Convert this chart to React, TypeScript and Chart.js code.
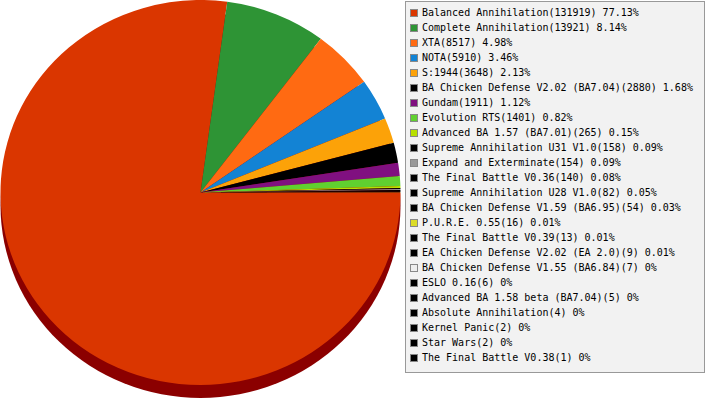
import React, { useEffect, useRef } from "react";
import { Chart, registerables } from "chart.js";

Chart.register(...registerables);

const categories: string[] = [
  "Balanced Annihilation",
  "Complete Annihilation",
  "XTA",
  "NOTA",
  "S:1944",
  "BA Chicken Defense V2.02 (BA7.04)",
  "Gundam",
  "Evolution RTS",
  "Advanced BA 1.57 (BA7.01)",
  "Supreme Annihilation U31 V1.0",
  "Expand and Exterminate",
  "The Final Battle V0.36",
  "Supreme Annihilation U28 V1.0",
  "BA Chicken Defense V1.59 (BA6.95)",
  "P.U.R.E. 0.55",
  "The Final Battle V0.39",
  "EA Chicken Defense V2.02 (EA 2.0)",
  "BA Chicken Defense V1.55 (BA6.84)",
  "ESLO 0.16",
  "Advanced BA 1.58 beta (BA7.04)",
  "Absolute Annihilation",
  "Kernel Panic",
  "Star Wars",
  "The Final Battle V0.38",
];

const values: number[] = [
  131919, 13921, 8517, 5910, 3648, 2880, 1911, 1401, 265, 158, 154, 140, 82, 54,
  16, 13, 9, 7, 6, 5, 4, 2, 2, 1,
];

const percentLabels: string[] = [
  "77.13%", "8.14%", "4.98%", "3.46%", "2.13%", "1.68%", "1.12%", "0.82%",
  "0.15%", "0.09%", "0.09%", "0.08%", "0.05%", "0.03%", "0.01%", "0.01%",
  "0.01%", "0%", "0%", "0%", "0%", "0%", "0%", "0%",
];

const colors: string[] = [
  "#da3600", "#2e9435", "#ff6a12", "#1383d4", "#fca208", "#000000",
  "#801080", "#60d030", "#b8e000", "#000000", "#999999", "#000000",
  "#000000", "#000000", "#dcdc28", "#000000", "#000000", "#eeeeee",
  "#000000", "#000000", "#000000", "#000000", "#000000", "#000000",
];

const SHADOW_COLOR = "#8b0000";
const DEPTH = 13;
const X_STRETCH = 200 / 192.5;

const pie3d = {
  id: "pie3d",
  beforeDatasetsDraw(chart: any) {
    const arc: any = chart.getDatasetMeta(0).data[0];
    if (!arc) return;
    const { x, y, outerRadius } = arc;
    const ctx = chart.ctx;
    ctx.save();
    ctx.translate(x, y);
    ctx.scale(X_STRETCH, 1);
    ctx.translate(-x, -y);
    ctx.fillStyle = SHADOW_COLOR;
    ctx.beginPath();
    ctx.arc(x, y + DEPTH, outerRadius, 0, Math.PI * 2);
    ctx.fill();
  },
  afterDatasetsDraw(chart: any) {
    chart.ctx.restore();
  },
};

function PieChart() {
  const ref = useRef<HTMLCanvasElement>(null);
  useEffect(() => {
    if (!ref.current) return;
    const chart = new Chart(ref.current, {
      type: "pie",
      data: {
        labels: categories,
        datasets: [
          {
            data: values,
            backgroundColor: colors,
            borderWidth: 0,
            clip: false as any,
          },
        ],
      },
      options: {
        responsive: false,
        animation: false,
        rotation: 90,
        layout: { padding: { top: 0, bottom: 15, left: 8, right: 11 } },
        plugins: {
          legend: { display: false },
          tooltip: { enabled: false },
        },
        events: [],
      },
      plugins: [pie3d],
    });
    return () => chart.destroy();
  }, []);
  return (
    <canvas
      ref={ref}
      width={404}
      height={400}
      style={{ position: "absolute", left: 0, top: 0, width: 404, height: 400 }}
    />
  );
}

export default function App() {
  return (
    <div
      style={{
        position: "absolute",
        left: 0,
        top: 0,
        width: 707,
        height: 400,
        background: "#ffffff",
        overflow: "hidden",
      }}
    >
      <PieChart />
      <div
        style={{
          position: "absolute",
          left: 405,
          top: 1,
          width: 298,
          height: 367,
          border: "1px solid #999999",
          background: "#f2f2f2",
          paddingTop: 3,
          boxSizing: "content-box",
        }}
      >
        {categories.map((c, i) => (
          <div
            key={i}
            style={{
              height: 15,
              display: "flex",
              alignItems: "center",
              paddingLeft: 4,
              fontFamily: '"DejaVu Sans Mono", monospace',
              fontSize: 10,
              color: "#000",
              whiteSpace: "nowrap",
            }}
          >
            <span
              style={{
                display: "inline-block",
                width: 6,
                height: 6,
                border: "1px solid #888888",
                background: colors[i],
                marginRight: 4,
              }}
            />
            <span>{`${c}(${values[i]}) ${percentLabels[i]}`}</span>
          </div>
        ))}
      </div>
    </div>
  );
}
